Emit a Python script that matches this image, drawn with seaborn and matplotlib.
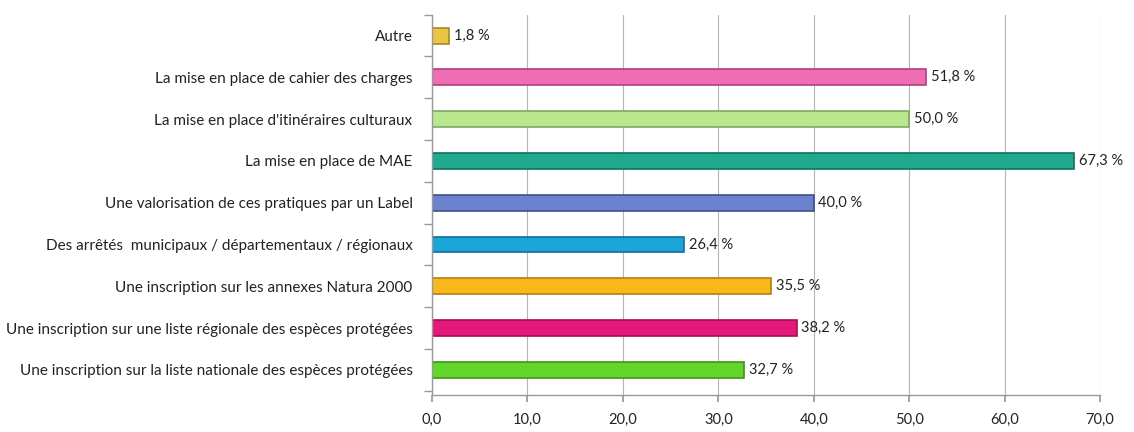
import numpy as np
import pandas as pd
import seaborn as sns
import matplotlib.pyplot as plt
from matplotlib.ticker import FuncFormatter, FixedLocator

# --- DATA ---
categories = [
    "Autre",
    "La mise en place de cahier des charges",
    "La mise en place d'itinéraires culturaux",
    "La mise en place de MAE",
    "Une valorisation de ces pratiques par un Label",
    "Des arrêtés  municipaux / départementaux / régionaux",
    "Une inscription sur les annexes Natura 2000",
    "Une inscription sur une liste régionale des espèces protégées",
    "Une inscription sur la liste nationale des espèces protégées",
]
values = [1.8, 51.8, 50.0, 67.3, 40.0, 26.4, 35.5, 38.2, 32.7]
bar_colors = ["#E9C447", "#EE6DB3", "#B9E78F", "#1FA98F", "#6B82CE",
              "#1AA6D9", "#F8B71A", "#E5197C", "#62D62A"]
edge_colors = ["#A88A20", "#B04080", "#7FA860", "#107060", "#40508A",
               "#10709A", "#B08010", "#A01050", "#40961A"]
x_ticks = [0, 10, 20, 30, 40, 50, 60, 70]

df = pd.DataFrame({"categorie": categories, "valeur": values})

sns.set_theme(style="white")
plt.rcParams["font.family"] = ["Lato", "DejaVu Sans"]

fig = plt.figure(figsize=(11.34, 4.32), dpi=100)
ax = fig.add_axes([0.381, 0.086, 0.589, 0.880])

sns.barplot(data=df, x="valeur", y="categorie", hue="categorie",
            palette=bar_colors, saturation=1, legend=False, width=0.38, ax=ax)

for patch, ec in zip(ax.patches, edge_colors):
    patch.set_edgecolor(ec)
    patch.set_linewidth(1.2)

for i, v in enumerate(values):
    ax.text(v + 0.5, i, f"{v:.1f} %".replace(".", ","), va="center",
            ha="left", fontsize=10.5, color="#222222")

ax.set_xlim(0, 70)
ax.set_ylim(8.6, -0.48)
ax.xaxis.set_major_locator(FixedLocator(x_ticks))
ax.xaxis.set_major_formatter(FuncFormatter(lambda x, p: f"{x:.1f}".replace(".", ",")))
ax.grid(axis="x", color="#B5B5B5", linewidth=0.8)
ax.set_axisbelow(True)

ax.set_yticks(np.arange(-0.5, 9.0, 1.0), minor=True)
ax.tick_params(axis="y", which="minor", left=True, length=6, color="#999999")
ax.tick_params(axis="y", which="major", left=False, labelsize=11, pad=8)
ax.tick_params(axis="x", bottom=True, length=5, color="#999999", labelsize=10.5, pad=8)
for lbl in ax.get_yticklabels():
    lbl.set_color("#222222")
for lbl in ax.get_xticklabels():
    lbl.set_color("#222222")

for side in ["top", "right"]:
    ax.spines[side].set_visible(False)
for side in ["left", "bottom"]:
    ax.spines[side].set_color("#999999")
    ax.spines[side].set_linewidth(1.0)

ax.set_xlabel("")
ax.set_ylabel("")

plt.savefig("out.png", dpi=100, facecolor="white")
plt.close()
